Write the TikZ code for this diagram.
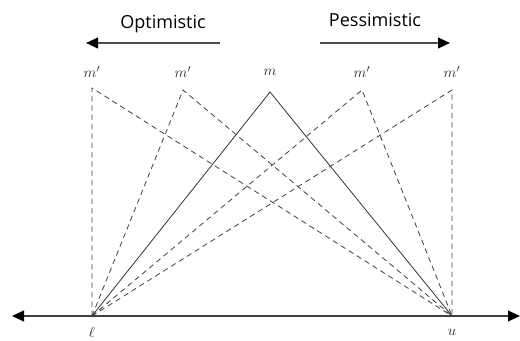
\documentclass[tikz,border=0pt]{standalone}
\usepackage{fontspec}
\newfontfamily\labfont{Open Sans}
\usetikzlibrary{arrows.meta}
\begin{document}
\begin{tikzpicture}[x=0.75pt,y=-0.75pt,
  solidline/.style={draw=black!80, line width=0.6pt},
  dashline/.style={draw=black!75, line width=0.6pt, dash pattern=on 4pt off 3pt},
  axisline/.style={draw=black!75, line width=1.5pt, {Triangle[length=9pt,width=8pt,fill=black,color=black]}-{Triangle[length=9pt,width=8pt,fill=black,color=black]}},
  dirarrow/.style={draw=black!70, line width=1.5pt, -{Triangle[length=9pt,width=8pt,fill=black,color=black]}},
  mlab/.style={font=\fontsize{11}{13}\selectfont, text=black!80, inner sep=1pt},
  dirlab/.style={font=\labfont\fontsize{13.5}{16}\selectfont, text=black, inner sep=1pt}]
\useasboundingbox (0,0) rectangle (520,341);
% points
\coordinate (l) at (92,316);
\coordinate (u) at (452,316);
\coordinate (a) at (92,88);
\coordinate (b) at (183,90);
\coordinate (m) at (270,92);
\coordinate (c) at (362,90);
\coordinate (d) at (452,90);
\coordinate (axL) at (12,316);
\coordinate (axR) at (520,316);
% axis
\draw[axisline] (axL) -- (axR);
% solid
\draw[solidline] (l) -- (m) -- (u);
% dashed
\draw[dashline] (l) -- (a) -- (u);
\draw[dashline] (l) -- (b) -- (u);
\draw[dashline] (l) -- (c) -- (u);
\draw[dashline] (l) -- (d) -- (u);
% labels
\node[mlab] (la) at (92,72) {$m'$};
\node[mlab] (lb) at (183,72) {$m'$};
\node[mlab] (lm) at (270,72) {$m$};
\node[mlab] (lc) at (362,72) {$m'$};
\node[mlab] (ld) at (452,72) {$m'$};
\node[mlab] (ll) at (92,332) {$\ell$};
\node[mlab] (lu) at (452,332) {$u$};
% direction arrows
\coordinate (o1) at (220,43);
\coordinate (o2) at (86,43);
\coordinate (p1) at (320,43);
\coordinate (p2) at (450,43);
\draw[dirarrow] (o1) -- (o2);
\draw[dirarrow] (p1) -- (p2);
\node[dirlab] (opt) at (163,24) {Optimistic};
\node[dirlab] (pes) at (375,20) {Pessimistic};
\end{tikzpicture}
\end{document}
